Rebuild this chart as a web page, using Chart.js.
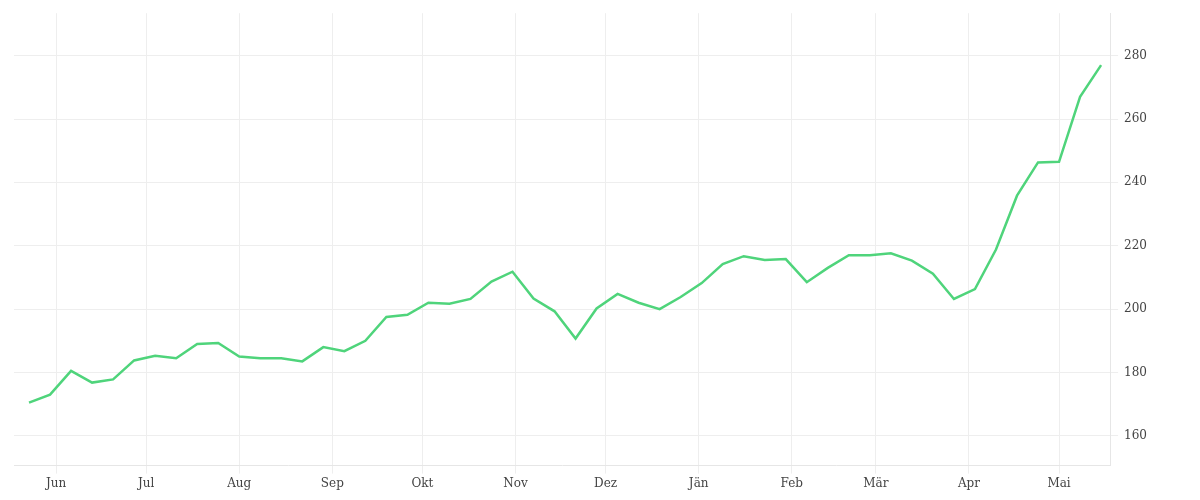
<!DOCTYPE html>
<html><head><meta charset="utf-8">
<script src="https://cdn.jsdelivr.net/npm/chart.js@4"></script>
<style>html,body{margin:0;background:#fff}#w{width:1200px;height:500px}</style>
</head><body><div id="w"><canvas id="c"></canvas></div>
<script>
const dayOffsets = [-9,-2,5,12,19,26,33,40,47,54,61,68,75,82,89,96,103,110,117,124,131,138,145,152,159,166,173,180,187,194,201,208,215,222,229,236,243,250,257,264,271,278,285,292,299,306,313,320,327,334,341,348];
const values = [170.5,173,180.5,176.8,177.8,183.8,185.3,184.5,189,189.3,185,184.5,184.5,183.5,188,186.7,190,197.5,198.2,202,201.7,203.2,208.7,211.8,203.3,199.3,190.7,200.2,204.8,202,200,203.8,208.2,214.2,216.7,215.5,215.8,208.5,213,217,217,217.6,215.3,211.2,203.2,206.3,218.8,235.8,246.3,246.5,267,277];
const monthDays = [0,30,61,92,122,153,183,214,245,273,304,334];
const monthLabels = ["Jun","Jul","Aug","Sep","Okt","Nov","Dez","Jän","Feb","Mär","Apr","Mai"];
const yTicks = [160,180,200,220,240,260,280];
Chart.defaults.font.family = "'DejaVu Serif', serif";
Chart.defaults.font.size = 12;
Chart.defaults.color = "#444";
new Chart(document.getElementById('c'), {
  type: 'line',
  data: { datasets: [{ data: dayOffsets.map((d,i)=>({x:d,y:values[i]})), borderColor:'#4fd47b', borderWidth:2.5, pointRadius:0, tension:0 }] },
  options: {
    responsive:true, maintainAspectRatio:false, animation:false,
    layout:{padding:{left:14,right:47,top:10,bottom:6}},
    plugins:{legend:{display:false},tooltip:{enabled:false}},
    scales:{
      x:{type:'linear', min:-14, max:351,
        afterBuildTicks:a=>{a.ticks=monthDays.map(v=>({value:v}));},
        ticks:{callback:v=>monthLabels[monthDays.indexOf(v)], maxRotation:0, autoSkip:false},
        grid:{color:'#eeeeee', tickLength:8}, border:{color:'#e6e6e6'}},
      y:{position:'right', min:150.6, max:293.4,
        afterBuildTicks:a=>{a.ticks=yTicks.map(v=>({value:v}));},
        ticks:{padding:6},
        grid:{color:'#eeeeee', tickLength:8}, border:{color:'#e6e6e6'}}
    }
  }
});
</script></body></html>
